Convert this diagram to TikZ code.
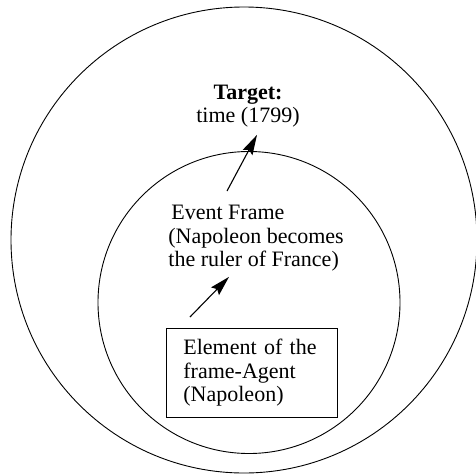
\documentclass[tikz,border=0pt]{standalone}
\usepackage{fontspec}
\setmainfont{Liberation Serif}
\usetikzlibrary{arrows.meta,positioning}

\begin{document}
\begin{tikzpicture}[x=1pt,y=-1pt,>={Stealth[length=20pt,width=11pt,inset=3pt]},
            line width=0.8pt,
            main node/.style={font=\fontsize{22}{23.5}\selectfont,inner sep=0pt,align=left},
            ring/.style={circle,draw,line width=0.9pt,inner sep=0pt}]

        \useasboundingbox (0,0) rectangle (476,474);

        % Define vertices
        \node[ring,minimum size=466pt] (outer) at (244,240) {};
        \node[ring,minimum size=302pt] (inner) at (249,302.5) {};
        \node[main node,align=center,anchor=north] (target) at (248,84.5) {\textbf{Target:}\\time (1799)};
        \node[main node,anchor=north west] (event) at (168,205) {\hspace{3pt}Event Frame\\(Napoleon becomes\\the ruler of France)};
        \node[main node,draw,anchor=north west,text width=137pt,inner xsep=17pt,inner ysep=11pt] (agent) at (166,328) {Element of the\\frame-Agent\\(Napoleon)};

        % Draw edges
        \path[->,line width=1.1pt]
            ([shift={(59,-14)}]event.north west) edge ([shift={(9,7)}]target.south)
            ([shift={(24,-11)}]agent.north west) edge ([shift={(61,5)}]event.south west);

\end{tikzpicture}
\end{document}
